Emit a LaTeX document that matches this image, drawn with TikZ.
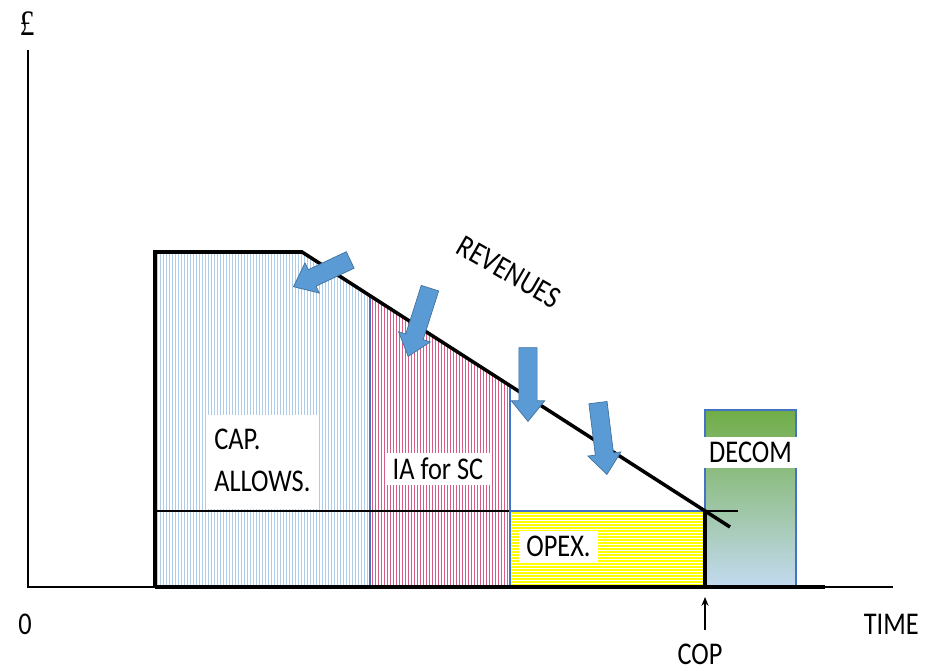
\documentclass[tikz,border=0pt]{standalone}
\usepackage{fontspec}
\setmainfont{Carlito}
\newfontfamily\poundfont{Liberation Serif}
\usepackage{graphicx}
\usepackage{xcolor}
\usetikzlibrary{shapes.arrows}
\usetikzlibrary{arrows.meta}

\definecolor{capblue}{RGB}{172,204,234}
\definecolor{iapink}{RGB}{218,92,132}
\definecolor{opexyellow}{RGB}{255,255,0}
\definecolor{edgeblue}{RGB}{68,114,196}
\definecolor{arrowblue}{RGB}{91,155,213}
\definecolor{arrowedge}{RGB}{65,113,156}
\definecolor{decomtop}{RGB}{112,173,71}
\definecolor{decommid}{RGB}{155,197,165}
\definecolor{decombot}{RGB}{195,218,240}

\newcommand\tall[1]{\scalebox{1}[1.2]{#1}}

\begin{document}
\begin{tikzpicture}[x=0.02cm, y=-0.02cm,
  lbl/.style={font=\fontsize{15}{19.8}\selectfont, inner sep=2pt},
  boxlbl/.style={lbl, fill=white, inner xsep=4pt, inner ysep=3pt},
  outline/.style={line width=2pt, black},
  thinline/.style={line width=0.9pt, black},
  edge/.style={line width=0.6pt, edgeblue},
  revarrow/.style={shape=single arrow, fill=arrowblue, draw=arrowedge, line width=0.4pt,
    inner xsep=0pt, inner ysep=5pt, minimum width=0pt,
    single arrow head extend=4.3pt, single arrow head indent=0pt, single arrow tip angle=78},
  coparrow/.style={-{Stealth[length=5pt, width=4pt]}, line width=0.7pt}
]
\useasboundingbox (0,0) rectangle (926,671);

% Capital allowances
\begin{scope}
  \clip (155,587) -- (155,252) -- (302,252) -- (370,295.7) -- (370,587) -- cycle;
  \foreach \x in {157,160,...,369} \draw[capblue, line width=0.55pt] (\x,240) -- (\x,590);
\end{scope}
\draw[edge] (370,295.7) -- (370,587);

% IA for SC
\begin{scope}
  \clip (370,295.7) -- (510,385.7) -- (510,587) -- (370,587) -- cycle;
  \foreach \x in {372,375,...,509} \draw[iapink, line width=0.55pt] (\x,280) -- (\x,590);
\end{scope}
\draw[edge] (510,385.7) -- (510,587);

% Decommissioning
\shade[top color=decomtop, middle color=decommid, bottom color=decombot] (705,410) rectangle (796,587);
\draw[edge] (705,410) rectangle (796,587);

% Axes and outline
\draw[thinline] (28,50) -- (28,587) -- (893,587);
\draw[thinline] (155,511) -- (738,511);

% Opex
\begin{scope}
  \clip (510,511) rectangle (705,587);
  \foreach \y in {513,516,...,587} \draw[opexyellow, line width=0.9pt] (505,\y) -- (710,\y);
\end{scope}
\draw[edge] (510,511) rectangle (705,587);

\draw[outline] (155,587) -- (155,252) -- (302,252) -- (730,527);
\draw[outline] (155,587) -- (825,587);
\draw[outline] (705,511) -- (705,587);

% Labels
\node[boxlbl, anchor=west] (cap) at (207,462)
  {\tall{\begin{tabular}{@{}l@{}}CAP.\\ALLOWS.\end{tabular}}};
\node[boxlbl, anchor=base] (ia) at (438,480) {\tall{IA for SC}};
\node[boxlbl, anchor=base west] (opex) at (519,557) {\tall{OPEX.}};
\node[boxlbl, anchor=base, minimum width=88*0.567pt] (decom) at (750.5,463) {\tall{DECOM}};
\node[lbl, rotate=-30] (rev) at (509,272) {\tall{REVENUES}};

\node[lbl, anchor=base] (zero) at (25,635) {\tall{0}};
\node[lbl, anchor=base west] (time) at (860,635) {\tall{TIME}};
\node[lbl, anchor=base] (cop) at (700,664) {\tall{COP}};
\node[lbl, font=\poundfont\fontsize{17}{19}\selectfont] (pound) at (27,24) {\tall{£}};

\coordinate (copfoot) at (705,630);
\coordinate (coptip) at (705,597);
\draw[coparrow] (copfoot) -- (coptip);

% Revenue arrows
\node[revarrow, minimum height=35.7pt, rotate=205.3, anchor=tip] (rev1) at (293,287) {};
\node[revarrow, minimum height=40.8pt, rotate=252.3, anchor=tip] (rev2) at (408,357) {};
\node[revarrow, minimum height=42pt, rotate=270, anchor=tip] (rev3) at (528,422) {};
\node[revarrow, minimum height=41.2pt, rotate=277.1, anchor=tip] (rev4) at (607,475) {};

\end{tikzpicture}
\end{document}
